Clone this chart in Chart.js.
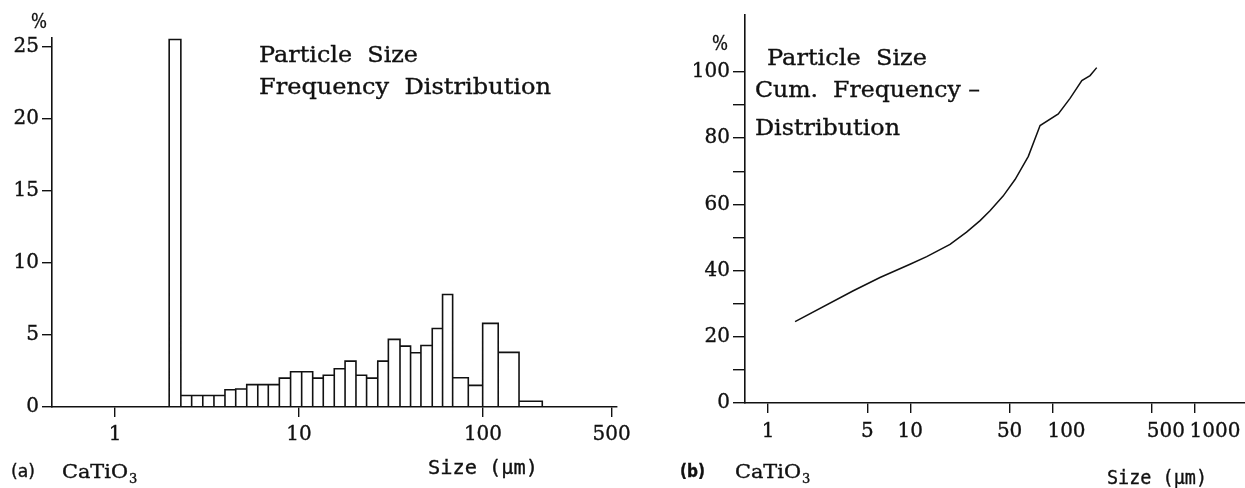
<!DOCTYPE html>
<html>
<head>
<meta charset="utf-8">
<script src="https://cdn.jsdelivr.net/npm/chart.js@4.4.1/dist/chart.umd.min.js"></script>
<style>
  html, body { margin: 0; padding: 0; background: #fff; }
  #wrap { position: relative; width: 1245px; height: 488px; }
  .box { position: absolute; top: 0; height: 488px; }
  #boxA { left: 0; width: 640px; }
  #boxB { left: 640px; width: 605px; }
</style>
</head>
<body>
<div id="wrap">
  <div class="box" id="boxA"><canvas id="ca"></canvas></div>
  <div class="box" id="boxB"><canvas id="cb"></canvas></div>
</div>
<script>
// (a) frequency histogram, bin edges in µm and % per bin
const BIN_EDGES = [1.97, 2.28, 2.61, 3.0, 3.45, 3.96, 4.53, 5.2, 5.97, 6.81, 7.82, 9.0, 10.34, 11.87, 13.55, 15.55,
  17.8, 20.4, 23.3, 26.8, 30.6, 35.4, 40.4, 46.0, 53.0, 60.3, 68.4, 83.2, 99.6, 121, 157, 210]
const FREQ = [25.5, 0.8, 0.8, 0.8, 0.8, 1.2, 1.25, 1.55, 1.55, 1.55, 2.0, 2.45, 2.45, 2.0, 2.2, 2.65,
  3.18, 2.2, 2.0, 3.18, 4.69, 4.22, 3.76, 4.27, 5.45, 7.8, 2.03, 1.5, 5.8, 3.79, 0.4]
const XTICKS_A = [1, 10, 100, 500]
const YTICKS_A = [0, 5, 10, 15, 20, 25]

// (b) cumulative curve
const CUM_X = [1.55, 3.98, 6.13, 9.97, 13.06, 19.05, 24.9, 31, 36.4, 45, 54.6, 67.7, 81.9, 110, 133, 161, 184, 205]
const CUM_Y = [24.6, 33.9, 37.9, 41.9, 44.2, 47.9, 51.6, 55.1, 58.1, 62.5, 67.5, 74.5, 83.8, 87.3, 92, 97.4, 98.9, 101.3]
const XTICKS_B = [1, 5, 10, 50, 100, 500, 1000]
const YTICKS_B = [0, 10, 20, 30, 40, 50, 60, 70, 80, 90, 100]

const INK = '#111'
const SERIF = 'DejaVu Serif'

function put(ctx, txt, x, y, font, w, align) {
  ctx.save()
  ctx.font = font
  ctx.fillStyle = INK
  ctx.strokeStyle = INK
  ctx.lineWidth = 0.35
  ctx.textBaseline = 'alphabetic'
  const m = ctx.measureText(txt).width
  if (align === 'center') x -= (w || m) / 2
  ctx.translate(x, y)
  if (w) ctx.scale(w / m, 1)
  ctx.fillText(txt, 0, 0)
  ctx.strokeText(txt, 0, 0)
  ctx.restore()
  return w || m
}

function chem(ctx, x, y, w) {
  put(ctx, 'CaTiO', x, y, '18px ' + SERIF, w)
  put(ctx, '3', x + w + 1, y + 5, '13px ' + SERIF)
}

function notes(fn) {
  return { id: 'notes', afterDraw(chart) { fn(chart.ctx, chart) } }
}

function xAxis(min, max, ticks, h, size, show) {
  return {
    type: 'logarithmic', min, max,
    afterBuildTicks: s => { s.ticks = ticks.map(v => ({ value: v })) },
    afterFit: s => { s.height = h },
    grid: { drawOnChartArea: false, color: INK, lineWidth: 1.4, tickLength: 10 },
    border: { color: INK, width: 1.6 },
    ticks: {
      display: show, autoSkip: false, maxRotation: 0, padding: 6, color: INK,
      textStrokeColor: INK, textStrokeWidth: 0.35,
      font: { family: SERIF, size }, callback: v => String(v),
    },
  }
}

function yAxis(min, max, ticks, w, size, tl, label) {
  return {
    type: 'linear', min, max,
    afterBuildTicks: s => { s.ticks = ticks.map(v => ({ value: v })) },
    afterFit: s => { s.width = w },
    grid: { drawOnChartArea: false, color: INK, lineWidth: 1.4, tickLength: tl },
    border: { color: INK, width: 1.6 },
    ticks: {
      autoSkip: false, padding: 3, color: INK, textStrokeColor: INK, textStrokeWidth: 0.35,
      font: { family: SERIF, size }, callback: label,
    },
  }
}

const base = {
  responsive: true, maintainAspectRatio: false, animation: false,
  plugins: { legend: { display: false }, tooltip: { enabled: false } },
  elements: { point: { radius: 0 } },
}

// histogram outline built from the bins
const histPts = []
FREQ.forEach((h, i) => {
  const a = BIN_EDGES[i], b = BIN_EDGES[i + 1]
  histPts.push({ x: a, y: 0 }, { x: a, y: h }, { x: b, y: h }, { x: b, y: 0 })
})

new Chart(document.getElementById('ca'), {
  type: 'scatter',
  data: { datasets: [{ data: histPts, showLine: true, borderColor: INK, borderWidth: 1.6, tension: 0, pointRadius: 0 }] },
  options: {
    ...base,
    layout: { padding: { top: 38, right: 23, left: 0, bottom: 0 } },
    scales: {
      x: xAxis(0.4546, 535, XTICKS_A, 81, 20, true),
      y: yAxis(0, 25.6, YTICKS_A, 52, 20, 10, v => String(v)),
    },
  },
  plugins: [notes(ctx => {
    put(ctx, '%', 31, 28, '20px ' + SERIF, 16)
    put(ctx, 'Particle  Size', 259, 62, '22px ' + SERIF, 159)
    put(ctx, 'Frequency  Distribution', 259, 94, '22px ' + SERIF, 292)
    put(ctx, 'Size (µm)', 428, 474, '19px DejaVu Sans Mono', 110)
    put(ctx, '(a)', 11, 477, '17px DejaVu Sans', 24)
    chem(ctx, 62, 478, 66)
  })],
})

new Chart(document.getElementById('cb'), {
  type: 'scatter',
  data: { datasets: [{ data: CUM_X.map((x, i) => ({ x, y: CUM_Y[i] })), showLine: true, borderColor: INK, borderWidth: 1.5, tension: 0, pointRadius: 0 }] },
  options: {
    ...base,
    layout: { padding: { top: 13, right: 0, left: 0, bottom: 0 } },
    scales: {
      x: xAxis(0.689, 2261, XTICKS_B, 85, 20, false),
      y: yAxis(0, 117.2, YTICKS_B, 105, 20, 12, v => (v % 20 === 0 ? String(v) : '')),
    },
  },
  plugins: [notes((ctx, chart) => {
    // x tick labels: 3- and 4-digit ones start at the tick, as in the original
    const sx = chart.scales.x
    XTICKS_B.forEach(v => {
      const px = sx.getPixelForValue(v)
      if (v >= 100) put(ctx, String(v), px - 5, 437, '20px ' + SERIF)
      else put(ctx, String(v), px, 437, '20px ' + SERIF, 0, 'center')
    })
    put(ctx, '%', 72, 50, '20px ' + SERIF, 16)
    put(ctx, 'Particle  Size', 127, 65, '22px ' + SERIF, 160)
    put(ctx, 'Cum.  Frequency –', 115, 97, '22px ' + SERIF, 225)
    put(ctx, 'Distribution', 115, 135, '22px ' + SERIF, 145)
    put(ctx, 'Size (µm)', 467, 484, '19px DejaVu Sans Mono', 100)
    put(ctx, '(b)', 40, 477, 'bold 17px DejaVu Sans', 25)
    chem(ctx, 95, 478, 66)
  })],
})
</script>
</body>
</html>
